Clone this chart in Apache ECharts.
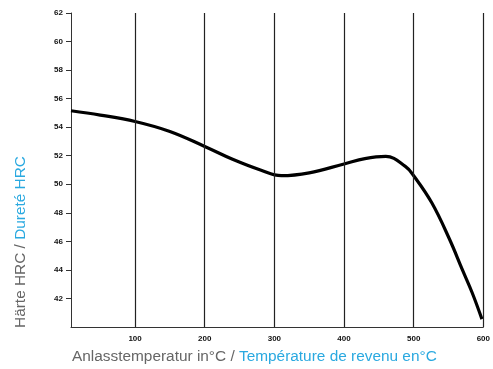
<!DOCTYPE html>
<html>
<head>
<meta charset="utf-8">
<script src="https://cdn.jsdelivr.net/npm/echarts@6/dist/echarts.min.js"></script>
<style>
  html, body { margin: 0; padding: 0; background: #fff; }
  #chart { width: 493px; height: 369px; }
</style>
</head>
<body>
<div id="chart"></div>
<script>
// Anlasskurve: Temperatur (°C) -> Härte (HRC)
const temps = [8, 50, 100, 150, 200, 240, 280, 310, 350, 400, 430, 460, 488, 500, 526, 551, 570, 584, 598];
const hardness = [55.15, 54.85, 54.4, 53.7, 52.65, 51.75, 51.0, 50.6, 50.8, 51.42, 51.8, 51.95, 51.25, 50.6, 48.7, 46.2, 44.0, 42.4, 40.55];
const xTicks = [100, 200, 300, 400, 500, 600];

const curve = temps.map((t, i) => [t, hardness[i]]);

const nameFont = { fontSize: 15.4, fontFamily: 'Liberation Sans' };

const myChart = echarts.init(document.getElementById('chart'));
myChart.setOption({
  animation: false,
  grid: { left: 71, right: 9, top: 13, bottom: 42 },
  xAxis: {
    type: 'value',
    min: 8,
    max: 600,
    axisLine: { show: true, lineStyle: { color: '#333', width: 1 } },
    axisTick: { show: false },
    splitLine: { show: false },
    axisLabel: {
      customValues: xTicks,
      color: '#111',
      fontSize: 8,
      fontWeight: 'bold',
      fontFamily: 'Liberation Sans',
      margin: 8
    }
  },
  yAxis: {
    type: 'value',
    min: 40,
    max: 62,
    interval: 2,
    axisLine: { show: true, lineStyle: { color: '#333', width: 1 } },
    axisTick: { show: true, length: 5, lineStyle: { color: '#333' } },
    splitLine: { show: false },
    axisLabel: {
      showMinLabel: false,
      color: '#111',
      fontSize: 8,
      fontWeight: 'bold',
      fontFamily: 'Liberation Sans',
      margin: 8
    }
  },
  graphic: [
    {
      type: 'text',
      x: 21,
      y: 242,
      rotation: Math.PI / 2,
      style: {
        text: '{a|Härte HRC / }{b|Dureté HRC}',
        align: 'center',
        verticalAlign: 'middle',
        rich: {
          a: Object.assign({ fill: '#666' }, nameFont),
          b: Object.assign({ fill: '#2aa9e0' }, nameFont)
        }
      }
    },
    {
      type: 'text',
      x: 72,
      y: 357,
      style: {
        text: '{a|Anlasstemperatur in°C / }{b|Température de revenu en°C}',
        align: 'left',
        verticalAlign: 'middle',
        rich: {
          a: Object.assign({ fill: '#666' }, nameFont),
          b: Object.assign({ fill: '#2aa9e0' }, nameFont)
        }
      }
    }
  ],
  series: [
    {
      type: 'line',
      data: curve,
      smooth: 0.4,
      symbol: 'none',
      lineStyle: { color: '#000', width: 3.2 },
      markLine: {
        silent: true,
        symbol: 'none',
        label: { show: false },
        lineStyle: { color: '#222', width: 1.2, type: 'solid' },
        data: xTicks.map(v => ({ xAxis: v }))
      }
    }
  ]
});
</script>
</body>
</html>
